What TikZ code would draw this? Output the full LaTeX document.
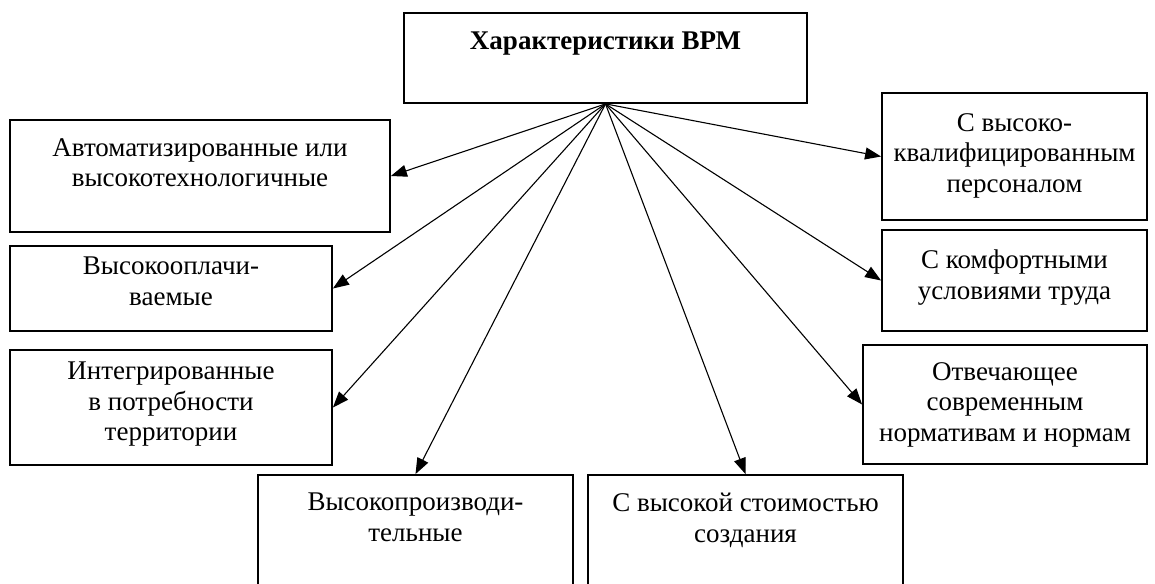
\documentclass[tikz,border=0pt]{standalone}
\usepackage{fontspec}
\setmainfont{Liberation Serif}
\usetikzlibrary{arrows.meta}
\tikzset{
  boxshape/.style={draw=black, line width=1.8pt, rectangle, inner sep=0pt},
  boxtext/.style={anchor=north, align=center, inner sep=0pt, font=\fontsize{27}{30.5}\selectfont},
  arr/.style={line width=1.1pt, -{Triangle[length=16pt,width=12pt]}}
}
\begin{document}
\begin{tikzpicture}[x=1pt,y=-1pt]
\useasboundingbox (0,0) rectangle (1155,583);
% boxes
\node[boxshape, minimum width=403pt, minimum height=90pt] (top) at (605.5,58) {};
\node[boxshape, minimum width=380pt, minimum height=112pt] (b1) at (200,176) {};
\node[boxshape, minimum width=322pt, minimum height=85pt] (b2) at (171,288.5) {};
\node[boxshape, minimum width=322pt, minimum height=115pt] (b3) at (171,407.5) {};
\node[boxshape, minimum width=315pt, minimum height=125pt] (b4) at (415.5,537.5) {};
\node[boxshape, minimum width=315pt, minimum height=125pt] (b5) at (745.5,537.5) {};
\node[boxshape, minimum width=265pt, minimum height=127pt] (b6) at (1014.5,156.5) {};
\node[boxshape, minimum width=265pt, minimum height=101pt] (b7) at (1014.5,280.5) {};
\node[boxshape, minimum width=284pt, minimum height=119pt] (b8) at (1005,404.5) {};
% texts
\node[boxtext, font=\fontsize{27}{30.5}\selectfont\bfseries] (ttop) at (605.5,32) {Характеристики ВРМ};
\node[boxtext] (t1) at (200,138) {Автоматизированные или\\высокотехнологичные};
\node[boxtext] (t2) at (171,257) {Высокооплачи-\\ваемые};
\node[boxtext] (t3) at (171,362) {Интегрированные\\в потребности\\территории};
\node[boxtext] (t4) at (415.5,493) {Высокопроизводи-\\тельные};
\node[boxtext] (t5) at (745.5,493) {С высокой стоимостью\\создания};
\node[boxtext] (t6) at (1014.5,113) {С высоко-\\квалифицированным\\персоналом};
\node[boxtext] (t7) at (1014.5,250) {С комфортными\\условиями труда};
\node[boxtext] (t8) at (1005,362) {Отвечающее\\современным\\нормативам и нормам};
% arrows
\draw[arr] (top.south) -- (b1.east);
\draw[arr] (top.south) -- (b2.east);
\draw[arr] (top.south) -- (b3.east);
\draw[arr] (top.south) -- (b4.north);
\draw[arr] (top.south) -- (b5.north);
\draw[arr] (top.south) -- (b6.west);
\draw[arr] (top.south) -- (b7.west);
\draw[arr] (top.south) -- (b8.west);
\end{tikzpicture}
\end{document}
